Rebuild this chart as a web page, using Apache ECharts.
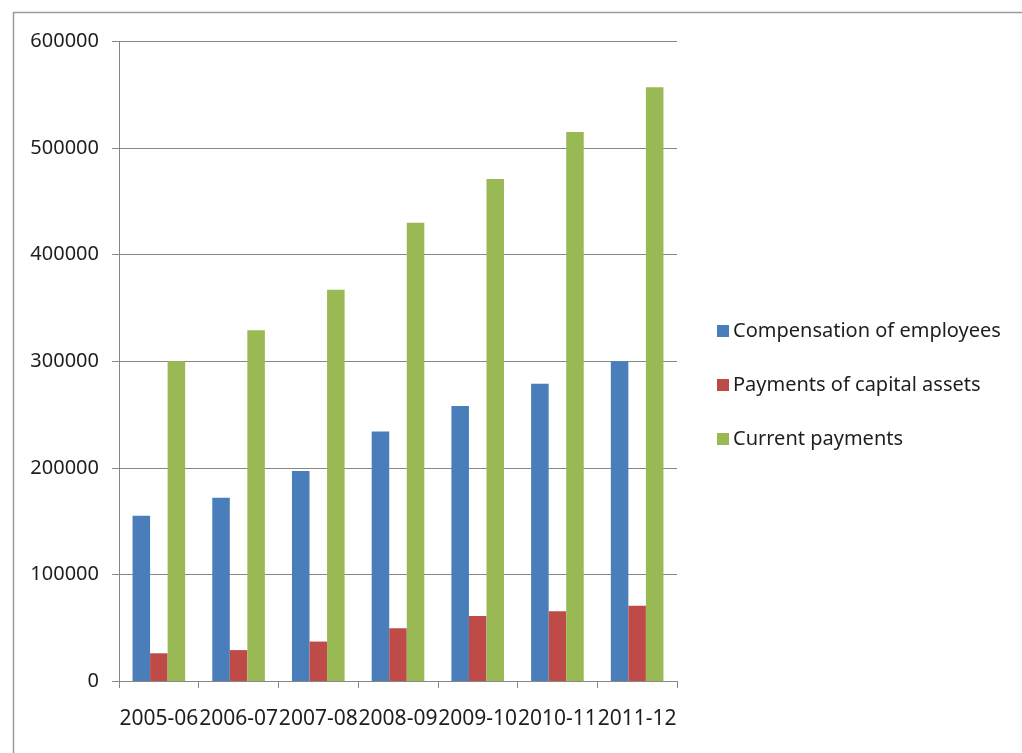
<!DOCTYPE html>
<html>
<head>
<meta charset="utf-8">
<script src="https://cdn.jsdelivr.net/npm/echarts@6/dist/echarts.min.js"></script>
<style>html,body{margin:0;padding:0;background:#fff}#c{width:1022px;height:753px}</style>
</head>
<body>
<div id="c"></div>
<script>
const categories = ['2005-06','2006-07','2007-08','2008-09','2009-10','2010-11','2011-12'];
const compensation = [155000, 172000, 197000, 234000, 258000, 279000, 300000];
const capitalAssets = [26000, 29000, 37000, 49500, 61000, 65500, 70500];
const currentPayments = [300000, 329000, 367000, 430000, 471000, 515000, 557000];
const yTicks = [0, 100000, 200000, 300000, 400000, 500000, 600000];

const chart = echarts.init(document.getElementById('c'), null, {renderer: 'canvas'});
const font = 'Noto Sans';
const txt = '#1e1e1e';
const gray = '#878787';
chart.setOption({
  animation: false,
  backgroundColor: '#fff',
  graphic: [{
    type: 'rect', left: 11, top: 10, z: -1,
    shape: {width: 1100, height: 800},
    style: {fill: 'none', stroke: '#9a9a9a', lineWidth: 1.5}
  }],
  grid: {left: 119, right: 345, top: 41.5, bottom: 72, containLabel: false},
  legend: {
    orient: 'vertical', left: 712, top: 316,
    itemWidth: 12, itemHeight: 12, itemGap: 34,
    icon: 'rect',
    textStyle: {fontFamily: font, fontSize: 20, color: txt, padding: [0, 0, 0, -1]},
    data: ['Compensation of employees', 'Payments of capital assets', 'Current payments']
  },
  xAxis: {
    type: 'category', data: categories,
    axisLine: {lineStyle: {color: gray, width: 1}},
    axisTick: {show: true, length: 7, lineStyle: {color: gray}},
    axisLabel: {fontFamily: font, fontSize: 21, color: txt, margin: 28, interval: 0}
  },
  yAxis: {
    type: 'value', min: 0, max: 600000, interval: 100000,
    axisLine: {show: true, lineStyle: {color: gray, width: 1}},
    axisTick: {show: true, length: 7, lineStyle: {color: gray}},
    splitLine: {lineStyle: {color: gray, width: 1}},
    axisLabel: {fontFamily: font, fontSize: 20, color: txt, margin: 20,
      formatter: v => yTicks.includes(v) ? String(v) : ''}
  },
  series: [
    {name: 'Compensation of employees', type: 'bar', data: compensation,
      itemStyle: {color: '#4A7EBB'}, barGap: '0%', barCategoryGap: '34%'},
    {name: 'Payments of capital assets', type: 'bar', data: capitalAssets,
      itemStyle: {color: '#BE4B48'}, barGap: '0%', barCategoryGap: '34%'},
    {name: 'Current payments', type: 'bar', data: currentPayments,
      itemStyle: {color: '#98B954'}, barGap: '0%', barCategoryGap: '34%'}
  ]
});
</script>
</body>
</html>
